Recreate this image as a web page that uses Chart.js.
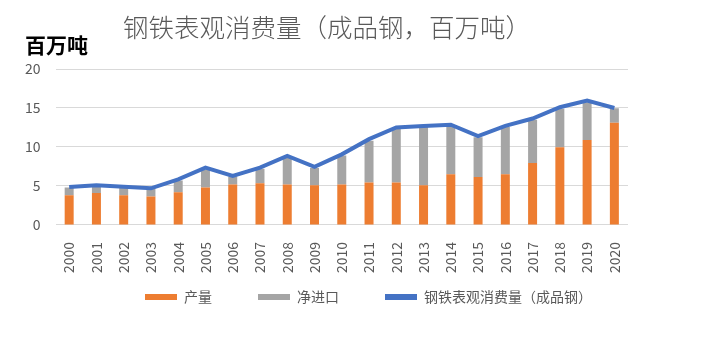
<!DOCTYPE html>
<html>
<head>
<meta charset="utf-8">
<script src="https://cdn.jsdelivr.net/npm/chart.js@4"></script>
<style>
  html, body { margin: 0; padding: 0; background: #fff; }
</style>
</head>
<body>
<canvas id="chart" width="701" height="340"></canvas>
<script>
const years = ['2000', '2001', '2002', '2003', '2004', '2005', '2006', '2007', '2008', '2009', '2010',
               '2011', '2012', '2013', '2014', '2015', '2016', '2017', '2018', '2019', '2020']
const production = [3.8, 4.1, 3.8, 3.65, 4.2, 4.8, 5.2, 5.35, 5.2, 5.1, 5.2,
                    5.45, 5.45, 5.1, 6.5, 6.15, 6.5, 7.95, 9.95, 10.9, 13.1]
const netImports = [1.0, 0.95, 1.05, 1.0, 1.5, 2.3, 1.0, 1.85, 3.4, 2.2, 3.7,
                    5.35, 6.95, 7.45, 6.3, 5.1, 6.05, 5.55, 4.95, 4.85, 1.85]
const consumption = [4.85, 5.1, 4.9, 4.7, 5.85, 7.35, 6.3, 7.35, 8.85, 7.45, 9.05,
                     11.0, 12.5, 12.7, 12.85, 11.4, 12.7, 13.65, 15.1, 15.95, 15.0]
const yTicks = [0, 5, 10, 15, 20]

const titleText = '钢铁表观消费量（成品钢，百万吨）'
const unitText = '百万吨'
const fontCN = '"Noto Sans CJK SC", "Noto Sans", sans-serif'

// titolo e unità disegnati a mano
const textPlugin = {
    id: 'testi',
    afterDraw(chart) {
        const ctx = chart.ctx
        ctx.save()
        ctx.textBaseline = 'middle'
        ctx.fillStyle = '#595959'
        ctx.font = '300 25.5px ' + fontCN
        ctx.textAlign = 'center'
        ctx.fillText(titleText, 327, 27)
        ctx.fillStyle = '#000000'
        ctx.font = 'bold 21px ' + fontCN
        ctx.textAlign = 'left'
        ctx.fillText(unitText, 25, 45)
        ctx.restore()
    }
}

// sposta la legenda più vicino all'asse (solo il bordo alto, così il testo non viene tagliato)
const legendShift = {
    id: 'spostaLegenda',
    afterLayout(chart) {
        const lg = chart.legend
        if (!lg) return
        lg.top -= 38
        lg.left += 10
        lg.right += 10
    }
}

new Chart(document.getElementById('chart'), {
    type: 'bar',
    data: {
        labels: years,
        datasets: [
            {
                label: '产量',
                data: production,
                backgroundColor: '#ED7D31',
                stack: 'bars',
                order: 1,
                barPercentage: 0.66,
                categoryPercentage: 0.5
            },
            {
                label: '净进口',
                data: netImports,
                backgroundColor: '#A5A5A5',
                stack: 'bars',
                order: 1,
                barPercentage: 0.66,
                categoryPercentage: 0.5
            },
            {
                type: 'line',
                label: '钢铁表观消费量（成品钢）',
                data: consumption,
                borderColor: '#4472C4',
                backgroundColor: '#4472C4',
                borderWidth: 4,
                pointRadius: 0,
                tension: 0,
                stack: 'line',
                order: 0
            }
        ]
    },
    options: {
        responsive: false,
        animation: false,
        layout: { padding: { top: 69, left: 10, right: 73, bottom: 4 } },
        plugins: {
            tooltip: { enabled: false },
            title: { display: false },
            legend: {
                position: 'bottom',
                align: 'end',
                maxHeight: 54,
                labels: {
                    color: '#595959',
                    font: { size: 14, family: fontCN },
                    boxWidth: 32,
                    boxHeight: 6,
                    padding: 46,
                    sort: (a, b) => a.datasetIndex - b.datasetIndex,
                    generateLabels(chart) {
                        return chart.data.datasets.map((ds, i) => ({
                            text: ds.label,
                            fillStyle: ds.backgroundColor,
                            strokeStyle: ds.backgroundColor,
                            lineWidth: 0,
                            fontColor: '#595959',
                            datasetIndex: i
                        }))
                    }
                }
            }
        },
        scales: {
            x: {
                stacked: true,
                grid: { display: false },
                border: { display: false },
                ticks: {
                    color: '#595959',
                    font: { size: 14, family: fontCN },
                    minRotation: 90,
                    maxRotation: 90,
                    autoSkip: false,
                    padding: 9
                }
            },
            y: {
                stacked: true,
                min: 0,
                max: 20,
                afterBuildTicks(axis) {
                    axis.ticks = yTicks.map(v => ({ value: v }))
                },
                grid: { color: '#D9D9D9', drawTicks: false },
                border: { display: false },
                ticks: {
                    color: '#595959',
                    font: { size: 14, family: fontCN },
                    padding: 15
                }
            }
        }
    },
    plugins: [textPlugin, legendShift]
})
</script>
</body>
</html>
